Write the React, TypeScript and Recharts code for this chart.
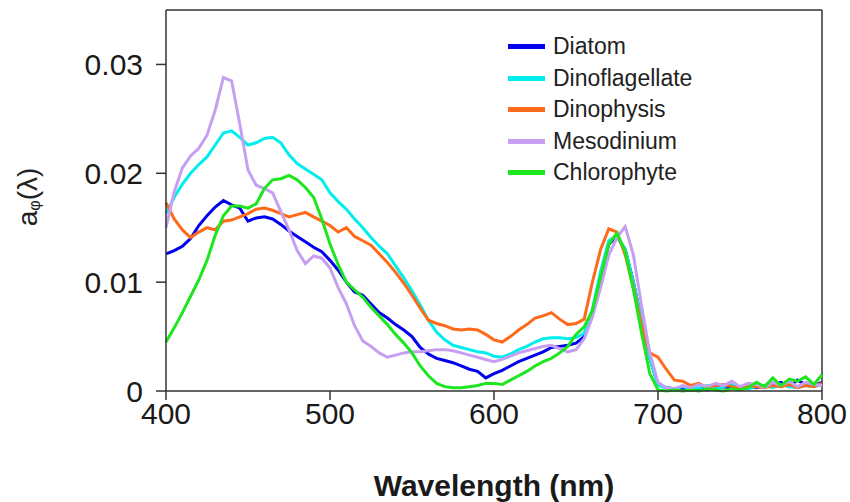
import React from 'react';
import {
  Line,
  LineChart,
  ReferenceLine,
  XAxis,
  YAxis,
} from 'recharts';

// wavelength grid (nm)
const wavelengths = [
  400, 405, 410, 415, 420, 425, 430, 435, 440, 445,
  450, 455, 460, 465, 470, 475, 480, 485, 490, 495,
  500, 505, 510, 515, 520, 525, 530, 535, 540, 545,
  550, 555, 560, 565, 570, 575, 580, 585, 590, 595,
  600, 605, 610, 615, 620, 625, 630, 635, 640, 645,
  650, 655, 660, 665, 670, 675, 680, 685, 690, 695,
  700, 705, 710, 715, 720, 725, 730, 735, 740, 745,
  750, 755, 760, 765, 770, 775, 780, 785, 790, 795, 800,
];

const diatom = [
  0.0126, 0.0129, 0.0133, 0.014, 0.0152, 0.0161, 0.0169, 0.0175, 0.0171, 0.0168,
  0.0156, 0.0159, 0.016, 0.0158, 0.0153, 0.0147, 0.0142, 0.0137, 0.0132, 0.0128,
  0.012, 0.0111, 0.01, 0.0091, 0.0088, 0.008, 0.0072, 0.0067, 0.0061, 0.0056,
  0.005, 0.004, 0.0034, 0.003, 0.0028, 0.0026, 0.0023, 0.002, 0.0018, 0.0012,
  0.0016, 0.0019, 0.0023, 0.0027, 0.003, 0.0033, 0.0036, 0.004, 0.0041, 0.0042,
  0.0044, 0.005, 0.0072, 0.0105, 0.0135, 0.0142, 0.013, 0.01, 0.0065, 0.003,
  0.0006, 0.0003, 0.0002, 0.0002, 0.0001, 0.0002, 0.0001, 0.0003, 0.0004, 0.0003,
  0.0002, 0.0004, 0.0003, 0.0005, 0.0006, 0.0008, 0.0004, 0.001, 0.0006, 0.0005, 0.0008,
];

const dinoflagellate = [
  0.0163, 0.0178, 0.019, 0.02, 0.0208, 0.0215, 0.0226, 0.0237, 0.0239, 0.0233,
  0.0226, 0.0228, 0.0232, 0.0233, 0.0228, 0.0217, 0.0209, 0.0204, 0.0199, 0.0194,
  0.0182, 0.0174, 0.0167, 0.0158, 0.015, 0.0141, 0.0133, 0.0126, 0.0115, 0.0104,
  0.0092, 0.0079, 0.0065, 0.0054, 0.0047, 0.0042, 0.004, 0.0038, 0.0036, 0.0035,
  0.0032, 0.0031, 0.0034, 0.0038, 0.0041, 0.0045, 0.0048, 0.0049, 0.0049, 0.0048,
  0.0049, 0.0053, 0.0075, 0.011, 0.0138, 0.0143, 0.013, 0.01, 0.0065, 0.003,
  0.0005, 0.0003, 0.0002, 0.0004, 0.0002, 0.0003, 0.0005, 0.0002, 0.0004, 0.0006,
  0.0003, 0.0002, 0.0004, 0.0005, 0.0003, 0.0006, 0.0004, 0.0003, 0.0005, 0.0004, 0.0006,
];

const dinophysis = [
  0.0173, 0.0158, 0.0148, 0.0141, 0.0146, 0.015, 0.0148, 0.0156, 0.0157, 0.016,
  0.0163, 0.0167, 0.0168, 0.0166, 0.0163, 0.016, 0.0162, 0.0164, 0.016, 0.0156,
  0.0152, 0.0146, 0.015, 0.0142, 0.0138, 0.0134, 0.0126, 0.0118, 0.0109, 0.0099,
  0.0088, 0.0076, 0.0065, 0.0062, 0.006, 0.0057, 0.0056, 0.0057, 0.0056, 0.0052,
  0.0047, 0.0045, 0.005, 0.0056, 0.0061, 0.0067, 0.0069, 0.0072, 0.0066, 0.0061,
  0.0062, 0.0066, 0.01, 0.013, 0.0149, 0.0146, 0.0125, 0.0095, 0.006, 0.0035,
  0.0031, 0.002, 0.001, 0.0009, 0.0005, 0.0007, 0.0003, 0.0005, 0.0006, 0.0004,
  0.0003, 0.0005, 0.0004, 0.0003, 0.0005, 0.0004, 0.0006, 0.0003, 0.0005, 0.0004, 0.0007,
];

const mesodinium = [
  0.015, 0.0183, 0.0205, 0.0216, 0.0223, 0.0235, 0.0258, 0.0288, 0.0285, 0.0245,
  0.0203, 0.0189, 0.0186, 0.0182, 0.0165, 0.0148, 0.0129, 0.0117, 0.0124, 0.0122,
  0.0113, 0.0095, 0.008, 0.006, 0.0046, 0.0041, 0.0035, 0.0031, 0.0033, 0.0035,
  0.0036, 0.0036, 0.0037, 0.0038, 0.0038, 0.0037, 0.0035, 0.0033, 0.0031, 0.0029,
  0.0027, 0.0029, 0.0032, 0.0035, 0.0037, 0.0039, 0.0041, 0.0042, 0.0039, 0.0036,
  0.0038, 0.0048, 0.0068, 0.0095, 0.0125, 0.0141, 0.0151, 0.0125, 0.0078, 0.0035,
  0.0008, 0.0003, 0.0002, 0.0005, 0.0003, 0.0006, 0.0004, 0.0007, 0.0005, 0.0009,
  0.0004, 0.0007, 0.0006, 0.0003, 0.0008, 0.0005, 0.0009, 0.0004, 0.0008, 0.0006, 0.0005,
];

const chlorophyte = [
  0.0045, 0.0058, 0.0072, 0.0087, 0.0102, 0.012, 0.0143, 0.0161, 0.017, 0.017,
  0.0168, 0.0172, 0.0186, 0.0194, 0.0195, 0.0198, 0.0194, 0.0187, 0.0178, 0.0158,
  0.0135, 0.0116, 0.01, 0.0093, 0.0086, 0.0077, 0.0069, 0.0061, 0.0052, 0.0044,
  0.0035, 0.0023, 0.0014, 0.0007, 0.0004, 0.0003, 0.0003, 0.0004, 0.0005, 0.0007,
  0.0007, 0.0006, 0.001, 0.0014, 0.0018, 0.0023, 0.0027, 0.003, 0.0035, 0.0041,
  0.0052, 0.0059, 0.0074, 0.0105, 0.0135, 0.0145, 0.0128, 0.0093, 0.0053, 0.0016,
  0.0001, 0, 0.0001, 0, 0.0001, 0, 0.0002, 0.0001, 0, 0.0002,
  0.0001, 0.0003, 0.0008, 0.0004, 0.0012, 0.0005, 0.0011, 0.0009, 0.0013, 0.0006, 0.0015,
];

const xTicks = [400, 500, 600, 700, 800];
const yTicks = [0, 0.01, 0.02, 0.03];

const series = [
  { key: 'Diatom', values: diatom, color: '#0000ee' },
  { key: 'Dinoflagellate', values: dinoflagellate, color: '#00eeee' },
  { key: 'Dinophysis', values: dinophysis, color: '#ff6a1a' },
  { key: 'Mesodinium', values: mesodinium, color: '#c79ff2' },
  { key: 'Chlorophyte', values: chlorophyte, color: '#1ee61e' },
];

const chartData = wavelengths.map((wl, i) => {
  const row: Record<string, number> = { wl };
  series.forEach((s) => {
    row[s.key] = s.values[i];
  });
  return row;
});

const FONT = '"Liberation Sans", Arial, sans-serif';
const AXIS = '#333333';

const LegendBox = () => (
  <div
    style={{
      position: 'absolute',
      left: 508,
      top: 31,
      fontFamily: FONT,
      fontSize: 23,
      color: '#222',
      pointerEvents: 'none',
    }}
  >
    {series.map((s) => (
      <div key={s.key} style={{ display: 'flex', alignItems: 'center', height: 31.5 }}>
        <span
          style={{
            display: 'inline-block',
            width: 37,
            height: 5,
            background: s.color,
            marginRight: 8,
          }}
        />
        <span>{s.key}</span>
      </div>
    ))}
  </div>
);

const YTitle = () => (
  <text
    x={30}
    y={197}
    transform="rotate(-90 30 197)"
    textAnchor="middle"
    dominantBaseline="middle"
    fontFamily={FONT}
    fontSize={28}
    fill="#222"
  >
    a
    <tspan fontSize={16} dy={6}>φ</tspan>
    <tspan dy={-6}>(λ)</tspan>
  </text>
);

export default function App() {
  return (
    <div style={{ position: 'absolute', left: 0, top: 0, width: 850, height: 502, background: '#fff' }}>
      <LineChart
        width={850}
        height={502}
        data={chartData}
        margin={{ top: 10, right: 28, left: 0, bottom: 0 }}
      >
        <XAxis
          dataKey="wl"
          type="number"
          domain={[400, 800]}
          ticks={xTicks}
          height={111}
          stroke={AXIS}
          strokeWidth={1.5}
          tickSize={9}
          tickMargin={3}
          tick={{ fill: '#1a1a1a', fontSize: 30, fontFamily: FONT }}
          label={{
            value: 'Wavelength (nm)',
            position: 'insideBottom',
            offset: 6,
            fill: '#1a1a1a',
            fontSize: 30,
            fontWeight: 'bold',
            fontFamily: FONT,
          }}
        />
        <YAxis
          type="number"
          domain={[0, 0.035]}
          ticks={yTicks}
          width={166}
          stroke={AXIS}
          strokeWidth={1.5}
          tickSize={10}
          tickMargin={13}
          tickFormatter={(v: number) => (v === 0 ? '0' : String(v))}
          tick={{ fill: '#1a1a1a', fontSize: 30, fontFamily: FONT }}
          label={<YTitle />}
        />
        <ReferenceLine x={800} stroke={AXIS} strokeWidth={1.5} ifOverflow="extendDomain" />
        <ReferenceLine y={0.035} stroke={AXIS} strokeWidth={1.5} ifOverflow="extendDomain" />
        {series.map((s) => (
          <Line
            key={s.key}
            dataKey={s.key}
            type="linear"
            stroke={s.color}
            strokeWidth={3}
            dot={false}
            isAnimationActive={false}
          />
        ))}
      </LineChart>
      <LegendBox />
    </div>
  );
}
